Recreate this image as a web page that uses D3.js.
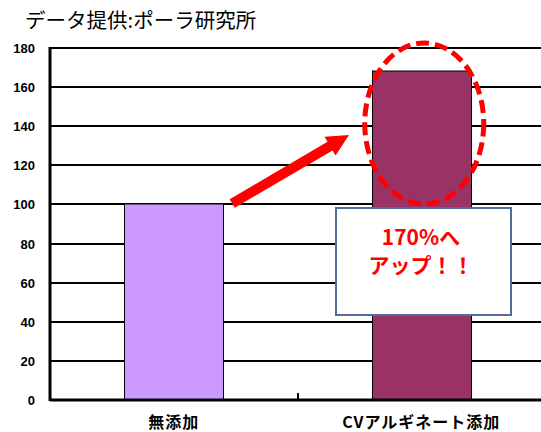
<!DOCTYPE html>
<html><head><meta charset="utf-8">
<script src="https://cdn.jsdelivr.net/npm/d3@7"></script>
<style>body{margin:0;background:#fff}svg{display:block}</style>
</head><body>
<svg id="c" width="541" height="432"></svg>
<script>
const title = "データ提供:ポーラ研究所";
const categories = ["無添加", "CVアルギネート添加"];
const values = [100, 168];
const barColors = ["#CC99FF", "#993366"];
const yTicks = [0, 20, 40, 60, 80, 100, 120, 140, 160, 180];
const noteLines = ["170%へ", "アップ！！"];

const svg = d3.select("#c");
const m = {l: 50, r: 545, t: 48, b: 400};
const x = d3.scaleBand().domain(categories).range([m.l, m.r]).paddingInner(0.6).paddingOuter(0.3);
const xb = d3.scaleBand().domain(categories).range([m.l, m.r]);
const y = d3.scaleLinear().domain([0, 180]).range([m.b, m.t]);
const yr = d => Math.round(y(d));

svg.append("text").attr("x", 25).attr("y", 28).attr("font-family", "Noto Sans CJK JP")
  .attr("font-size", 20.5).attr("fill", "#000").text(title);

// gridlines
svg.append("g").selectAll("line").data(yTicks).join("line")
  .attr("x1", m.l).attr("x2", 541).attr("y1", d => yr(d)).attr("y2", d => yr(d))
  .attr("stroke", "#000").attr("stroke-width", 2);

// y labels
svg.append("g").selectAll("text").data(yTicks).join("text")
  .attr("x", 35).attr("y", d => yr(d) + 5).attr("text-anchor", "end")
  .attr("font-family", "Liberation Sans, Arial").attr("font-weight", "bold").attr("font-size", 13)
  .text(d => d);

// bars
svg.append("g").selectAll("rect").data(values).join("rect")
  .attr("x", (d, i) => Math.round(x(categories[i])) + 0.5).attr("width", Math.round(x.bandwidth()))
  .attr("y", d => yr(d)).attr("height", d => yr(0) - yr(d))
  .attr("fill", (d, i) => barColors[i]).attr("stroke", "#000").attr("stroke-width", 1);

// axes
svg.append("line").attr("x1", m.l).attr("x2", m.l).attr("y1", m.t - 1).attr("y2", m.b + 1)
  .attr("stroke", "#000").attr("stroke-width", 3);
svg.append("line").attr("x1", m.l).attr("x2", 541).attr("y1", m.b).attr("y2", m.b)
  .attr("stroke", "#000").attr("stroke-width", 3);
svg.append("line").attr("x1", Math.round(xb(categories[1]))).attr("x2", Math.round(xb(categories[1])))
  .attr("y1", m.b - 7).attr("y2", m.b).attr("stroke", "#000").attr("stroke-width", 2);

// x labels
svg.append("g").selectAll("text").data(categories).join("text")
  .attr("x", d => x(d) + x.bandwidth() / 2).attr("y", 428).attr("text-anchor", "middle")
  .attr("font-family", "Noto Sans CJK JP").attr("font-weight", "bold").attr("font-size", 16)
  .attr("letter-spacing", 1)
  .text(d => d);

// arrow
const ax0 = x(categories[0]) + x.bandwidth() + 9, ay0 = y(values[0]) - 1;
const ax1 = 349, ay1 = 135;
const ang = Math.atan2(ay1 - ay0, ax1 - ax0);
const len = Math.hypot(ax1 - ax0, ay1 - ay0);
const hw = 5, hh = 11, hl = 22;
const g = svg.append("g").attr("transform", `translate(${ax0},${ay0}) rotate(${ang * 180 / Math.PI})`);
g.append("path").attr("fill", "#FF0000")
  .attr("d", `M0,${-hw}L${len - hl},${-hw}L${len - hl},${-hh}L${len},0L${len - hl},${hh}L${len - hl},${hw}L0,${hw}Z`);

// ellipse
const ecx = x(categories[1]) + x.bandwidth() / 2 + 3;
svg.append("ellipse").attr("cx", ecx).attr("cy", 123.5).attr("rx", 59.5).attr("ry", 80.5)
  .attr("fill", "none").attr("stroke", "#FF0000").attr("stroke-width", 5).attr("stroke-dasharray", "13,6");

// note box
svg.append("rect").attr("x", 336).attr("y", 208).attr("width", 175).attr("height", 107)
  .attr("fill", "#fff").attr("stroke", "#4F6D96").attr("stroke-width", 2);
svg.append("g").selectAll("text").data(noteLines).join("text")
  .attr("x", 421).attr("y", (d, i) => 245 + i * 28).attr("text-anchor", "middle")
  .attr("font-family", "Noto Sans CJK JP").attr("font-weight", "bold").attr("font-size", 21)
  .attr("fill", "#FF0000").text(d => d);
</script>
</body></html>
